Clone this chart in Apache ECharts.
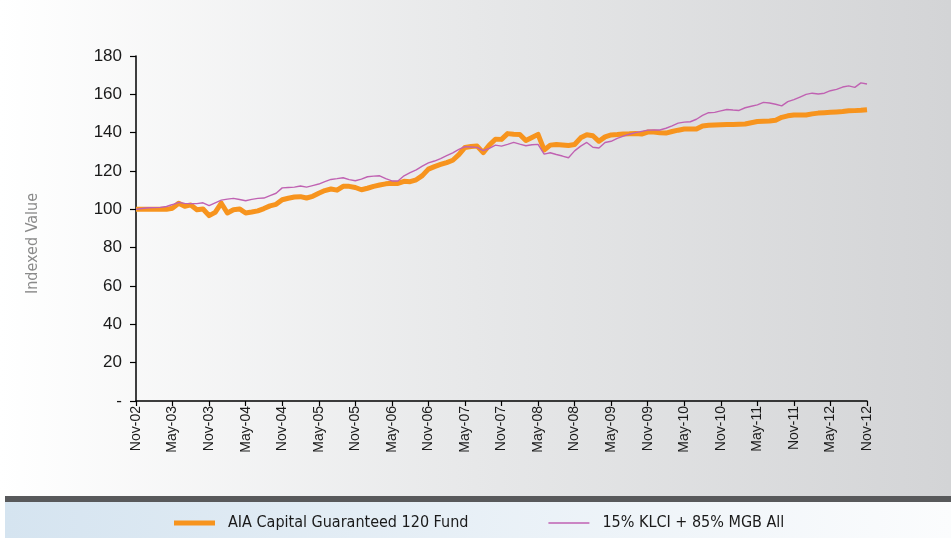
<!DOCTYPE html>
<html lang="en">
<head>
    <meta charset="UTF-8">
    <title>Indexed Value</title>
    <script src="https://cdn.jsdelivr.net/npm/echarts@6/dist/echarts.min.js"></script>
    <style>
        html, body { margin: 0; padding: 0; background: #ffffff; }
        #container { width: 951px; height: 538px; }
    </style>
</head>
<body>
<div id="container"></div>

<script type="text/javascript">
    // month names + years for the category axis (Nov-02 .. Nov-12, monthly)
    var monthNames = ['Jan', 'Feb', 'Mar', 'Apr', 'May', 'Jun', 'Jul', 'Aug', 'Sep', 'Oct', 'Nov', 'Dec'];
    var startYear = 2002, startMonth = 10, monthCount = 121;

    var yTicks = [0, 20, 40, 60, 80, 100, 120, 140, 160, 180];

    // AIA Capital Guaranteed 120 Fund
    var fundValues = [
        100, 100, 100, 100, 100, 100, 100.6, 103.2, 101.6, 102.3, 99.8, 100.2,
        96.7, 98.4, 103.2, 98.1, 99.8, 100.2, 98.1, 98.6, 99.2, 100.4, 101.8, 102.6,
        105, 105.8, 106.4, 106.6, 105.9, 106.8, 108.4, 109.8, 110.6, 110, 112, 112,
        111.4, 110.2, 111, 112, 112.7, 113.3, 113.6, 113.5, 114.6, 114.4, 115.4, 117.6,
        121, 122.3, 123.4, 124.4, 125.6, 128.5, 132.3, 132.8, 133, 129.6, 133.5, 136.6,
        136.5, 139.5, 139.2, 139.1, 135.9, 137.5, 139.1, 131, 133.5, 133.8, 133.6, 133.3,
        133.8, 137.3, 138.9, 138.4, 135.5, 137.8, 138.8, 139, 139.3, 139.4, 139.6, 139.3,
        140.3, 140.4, 140, 139.8, 140.6, 141.3, 141.9, 141.9, 141.9, 143.5, 143.9, 144,
        144.1, 144.2, 144.3, 144.4, 144.5, 145.2, 145.8, 146, 146.1, 146.5, 148, 148.8,
        149.2, 149.2, 149.2, 149.8, 150.2, 150.4, 150.6, 150.8, 151, 151.4, 151.5, 151.7,
        152
    ];

    // 15% KLCI + 85% MGB All benchmark
    var benchValues = [
        100, 100.4, 100.8, 100.9, 101, 101.5, 102.5, 103.6, 103.1, 103, 103, 103.4,
        101.9, 103.4, 104.8, 105.3, 105.7, 105.1, 104.5, 105.2, 105.7, 105.9, 107.2, 108.4,
        111.2, 111.4, 111.6, 112.2, 111.6, 112.4, 113.2, 114.5, 115.6, 116, 116.5, 115.5,
        114.9, 115.8, 117, 117.3, 117.5, 116, 114.8, 114.8, 117.5, 119.2, 120.6, 122.5,
        124.2, 125.2, 126.5, 128, 129.5, 131.3, 132.7, 132.5, 132.3, 130.6, 131.8, 133.5,
        133, 133.9, 134.9, 134, 133.2, 133.7, 133.9, 128.8, 129.5, 128.6, 127.8, 126.9,
        130.5, 133, 134.9, 132.4, 132, 134.9, 135.5, 137, 138.2, 139.2, 140, 140.7,
        141.3, 141.4, 141.4, 142.3, 143.5, 145, 145.5, 145.7, 147, 149, 150.4, 150.6,
        151.4, 152.1, 151.8, 151.6, 153, 153.8, 154.5, 155.8, 155.5, 154.8, 154, 156.2,
        157.2, 158.6, 160, 160.6, 160.2, 160.6, 161.9, 162.6, 163.8, 164.4, 163.6, 166,
        165.4
    ];

    var seriesNames = ['AIA Capital Guaranteed 120 Fund', '15% KLCI + 85% MGB All'];

    var categories = [];
    for (var i = 0; i < monthCount; i++) {
        var m = (startMonth + i) % 12;
        var y = startYear + Math.floor((startMonth + i) / 12);
        categories.push(monthNames[m] + '-' + String(y % 100).padStart(2, '0'));
    }

    // legend swatches: thin bars inside a 41x14 box (the two zero-area lines fix the box)
    var thickBar = 'path://M0,0L41,0M0,14L41,14M0,4.5L41,4.5L41,9.5L0,9.5Z';
    var thinBar = 'path://M0,0L41,0M0,14L41,14M0,6.2L41,6.2L41,7.8L0,7.8Z';

    var dom = document.getElementById('container');
    var myChart = echarts.init(dom, null, { renderer: 'canvas' });

    var option = {
        animation: false,
        textStyle: { fontFamily: 'Liberation Sans' },
        graphic: [
            {   // plot background
                type: 'rect', z: -10, silent: true,
                shape: { x: 0, y: 0, width: 951, height: 496 },
                style: {
                    fill: new echarts.graphic.LinearGradient(0, 0, 1, 0, [
                        { offset: 0, color: '#ffffff' },
                        { offset: 0.5, color: '#e7e8e9' },
                        { offset: 1, color: '#d3d4d6' }
                    ])
                }
            },
            {   // dark separator
                type: 'rect', z: -10, silent: true,
                shape: { x: 5, y: 496, width: 946, height: 6 },
                style: { fill: '#58595b' }
            },
            {   // legend band
                type: 'rect', z: -10, silent: true,
                shape: { x: 5, y: 502, width: 946, height: 36 },
                style: {
                    fill: new echarts.graphic.LinearGradient(0, 0, 1, 0, [
                        { offset: 0, color: '#d5e4f0' },
                        { offset: 1, color: '#fbfcfd' }
                    ])
                }
            }
        ],
        legend: {
            left: 169,
            top: 510,
            itemWidth: 41,
            itemHeight: 14,
            itemGap: 80,
            textStyle: {
                fontFamily: 'DejaVu Sans Condensed',
                fontSize: 16,
                color: '#1a1a1a',
                padding: [0, 0, 0, 8]
            },
            data: [
                { name: seriesNames[0], icon: thickBar, itemStyle: { color: '#f7941e', borderWidth: 0 } },
                { name: seriesNames[1], icon: thinBar, itemStyle: { color: '#c062b2', borderWidth: 0 } }
            ]
        },
        grid: { left: 136, right: 84, top: 56, bottom: 137, containLabel: false },
        xAxis: {
            type: 'category',
            boundaryGap: false,
            data: categories,
            axisLine: { lineStyle: { color: '#000000', width: 1.5 } },
            axisTick: { interval: 5, length: 5, lineStyle: { color: '#000000', width: 1.2 } },
            axisLabel: {
                interval: 5,
                rotate: 90,
                margin: 5,
                fontSize: 14,
                color: '#1a1a1a'
            },
            splitLine: { show: false }
        },
        yAxis: {
            type: 'value',
            min: yTicks[0],
            max: yTicks[yTicks.length - 1],
            interval: 20,
            name: 'Indexed Value',
            nameLocation: 'middle',
            nameGap: 95,
            nameTextStyle: {
                fontFamily: 'DejaVu Sans Condensed',
                fontSize: 16,
                color: '#8a8a8a',
                padding: [0, 30, 0, 0]
            },
            axisLine: { show: true, lineStyle: { color: '#000000', width: 1.5 } },
            axisTick: { show: true, length: 6, lineStyle: { color: '#000000', width: 1.2 } },
            axisLabel: {
                fontSize: 17,
                color: '#1a1a1a',
                margin: 14,
                formatter: function (v) { return v === 0 ? '-' : String(v); }
            },
            splitLine: { show: false }
        },
        series: [
            {
                name: seriesNames[0],
                type: 'line',
                data: fundValues,
                symbol: 'none',
                z: 2,
                lineStyle: { color: '#f7941e', width: 5, join: 'round' },
                itemStyle: { color: '#f7941e' }
            },
            {
                name: seriesNames[1],
                type: 'line',
                data: benchValues,
                symbol: 'none',
                z: 3,
                lineStyle: { color: '#c062b2', width: 1.4 },
                itemStyle: { color: '#c062b2' }
            }
        ]
    };

    myChart.setOption(option);
</script>
</body>
</html>
